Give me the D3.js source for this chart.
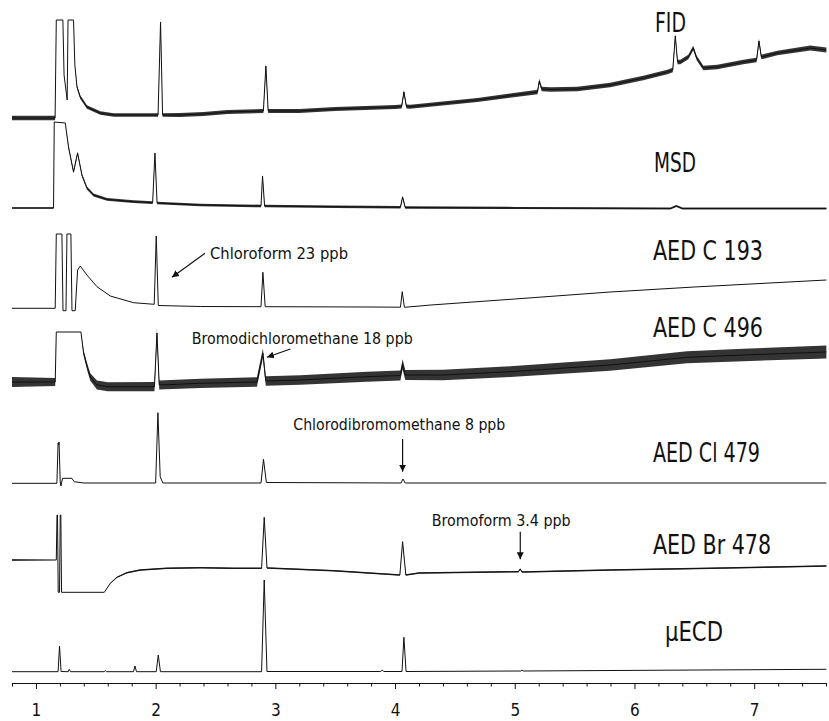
<!DOCTYPE html>
<html><head><meta charset="utf-8">
<script src="https://cdn.jsdelivr.net/npm/d3@7"></script>
<style>
body{margin:0;background:#fff}
svg{display:block}
</style></head><body>
<svg id="chart" width="829" height="721"></svg>
<script>
// ---------- data ----------
const xDomain = [0.8, 7.6];
const majorTicks = [1, 2, 3, 4, 5, 6, 7];
const minorTicks = d3.range(0.8, 7.61, 0.2).map(v => +v.toFixed(1)).filter(v => !majorTicks.includes(v));

const detectorLabels = ["FID", "MSD", "AED C 193", "AED C 496", "AED Cl 479", "AED Br 478", "\u03bcECD"];
const annotationTexts = ["Chloroform 23 ppb", "Bromodichloromethane 18 ppb", "Chlorodibromomethane 8 ppb", "Bromoform 3.4 ppb"];

// [time (min), response]
const fidTrace = [
  [0.80,2],[1.16,2],[1.17,100],[1.225,100],[1.235,45],[1.261,20],[1.268,100],[1.314,100],[1.325,55],
  [1.343,33],[1.37,23],[1.426,13],[1.537,7],[1.65,5],[1.8,5],[2.02,5],[2.041,98],[2.058,5],[2.2,5],
  [2.4,6],[2.6,8],[2.9,9],[2.921,54],[2.94,9],[3.2,9],[3.5,11],[4.0,13],[4.055,13.5],[4.074,28],
  [4.095,13.5],[4.127,13.3],[4.687,20],[5.19,28],[5.205,39],[5.225,31],[5.3,30.5],[5.522,31],
  [5.797,35],[6.073,42],[6.274,48],[6.32,50],[6.341,84],[6.36,58],[6.383,58],[6.45,63],[6.491,72],
  [6.52,62],[6.575,52],[6.692,53],[6.909,58],[7.02,60],[7.04,79],[7.06,63],[7.193,67],[7.469,72],[7.603,70]
];
const fidNoise = [[0.8,2.2],[1.16,2.2],[1.165,0],[1.32,0],[1.34,1.8],[7.603,2.4]];

const msdTrace = [
  [0.80,2],[1.147,2],[1.153,88],[1.245,87],[1.272,63],[1.314,38],[1.348,57],[1.384,35],[1.426,22],
  [1.481,15],[1.593,10.7],[1.815,8.3],[1.975,7.3],[1.994,57],[2.012,7],[2.373,5],[2.88,4],[2.893,34],
  [2.91,4],[3.5,3.3],[4.045,2.7],[4.063,13],[4.085,2.5],[5.0,2],[6.3,1.5],[6.35,4],[6.40,1.5],[7.603,1.5]
];
const msdNoise = [[0.8,0.8],[1.147,0.8],[1.15,0],[1.245,0],[1.27,1.4],[7.603,0.9]];

const c193Trace = [
  [0.80,1.7],[1.161,1.7],[1.170,76],[1.217,76],[1.226,-0.7],[1.251,-0.7],[1.259,76],[1.292,76],
  [1.301,-0.7],[1.328,-0.7],[1.348,40],[1.37,44],[1.426,35],[1.51,23.3],[1.621,14],[1.815,7.3],
  [1.988,5.7],[2.005,74],[2.022,4.5],[2.373,3.5],[2.88,3.3],[2.896,37.7],[2.915,3.3],[3.765,3],
  [4.045,2.8],[4.06,18.3],[4.078,2.7],[4.3,5],[5.0,11],[5.797,18],[6.5,23],[7.603,30]
];

const c496Trace = [
  [0.80,8],[1.161,8],[1.170,58],[1.376,58],[1.398,37],[1.431,22],[1.454,13],[1.51,5],[1.6,3.3],
  [1.99,3.3],[2.011,57],[2.03,5],[2.373,6.7],[2.846,8],[2.896,36.7],[2.92,9],[3.208,10],[3.765,13.3],
  [4.045,14.5],[4.063,25.7],[4.085,15],[4.4,15],[4.963,18.3],[5.797,25],[6.439,32.7],[6.909,35],[7.603,38]
];
const c496Noise = [[0.8,5],[1.16,5],[1.165,0],[1.38,0],[1.40,3],[1.5,4.5],[4.0,5],[7.603,6.5]];

const cl479Trace = [
  [0.80,1.7],[1.175,1.7],[1.185,42],[1.189,40],[1.193,43],[1.203,3],[1.209,-1],[1.222,6.7],[1.30,6.7],
  [1.320,3.3],[1.40,2],[2.0,2],[2.019,72.3],[2.038,8.3],[2.06,2],[2.88,2],[2.901,25.7],[2.925,2.5],
  [4.05,2],[4.066,6],[4.085,2],[7.603,2]
];

const br478Trace = [
  [0.80,35],[1.17,35],[1.176,80],[1.18,80],[1.186,2.7],[1.197,2.7],[1.203,80],[1.208,80],[1.214,2.7],
  [1.571,2.7],[1.621,11.7],[1.677,17.7],[1.760,22.3],[1.871,25],[2.094,26.7],[2.373,27.3],[2.651,26.7],
  [2.885,26.7],[2.907,77.7],[2.93,27],[3.486,24.3],[4.04,20],[4.063,53.3],[4.09,20],[4.2,22],[5.03,23.3],
  [5.046,26],[5.06,23],[5.797,25],[6.633,26.7],[7.603,29]
];
const br478Noise = [[0.8,0.7],[1.165,0.7],[1.17,0],[1.58,0],[1.7,0.7],[7.603,0.7]];

const ecdTrace = [
  [0.80,1.3],[1.185,1.3],[1.197,27],[1.21,1.5],[1.27,1.3],[1.278,3.7],[1.29,1.3],[1.57,1.3],[1.579,2.3],
  [1.59,1.3],[1.815,1.3],[1.827,7],[1.84,1.3],[2.005,1.3],[2.022,18],[2.04,1.3],[2.885,1.3],[2.907,93],
  [2.93,1.5],[3.88,1.5],[3.893,3],[3.905,1.5],[4.058,1.5],[4.074,35.7],[4.092,1.5],[5.05,2],[5.06,3],
  [5.07,2],[7.603,3.7]
];

// ---------- layout ----------
const FONT = '"Liberation Sans Narrow","Arial Narrow","DejaVu Sans Condensed",sans-serif';
const svg = d3.select("#chart");
const x = d3.scaleLinear().domain(xDomain).range([12, 826]);

const traces = [
  {data: fidTrace,  noise: fidNoise,  base: 120, label: {x: 655, y: 32,  w: 31}},
  {data: msdTrace,  noise: msdNoise,  base: 210, label: {x: 654, y: 172, w: 42}},
  {data: c193Trace, noise: null,      base: 310, label: {x: 653, y: 260, w: 110}},
  {data: c496Trace, noise: c496Noise, base: 390, label: {x: 653, y: 337, w: 110}},
  {data: cl479Trace,noise: null,      base: 485, label: {x: 653, y: 462, w: 107}},
  {data: br478Trace,noise: br478Noise,base: 595, label: {x: 653, y: 554, w: 118}},
  {data: ecdTrace,  noise: null,      base: 673, label: {x: 665, y: 641, w: 58}}
];

svg.append("defs").append("marker")
  .attr("id", "arrow").attr("viewBox", "0 0 10 10").attr("refX", 10).attr("refY", 5)
  .attr("markerWidth", 7).attr("markerHeight", 8).attr("markerUnits", "userSpaceOnUse")
  .attr("orient", "auto")
  .append("path").attr("d", "M0,0 L10,5 L0,10 z").attr("fill", "#111");

traces.forEach((tr, i) => {
  const y = d3.scaleLinear().domain([0, 100]).range([tr.base, tr.base - 100]);
  tr.y = y;
  if (tr.noise) {
    const n = d3.scaleLinear().domain(tr.noise.map(d => d[0])).range(tr.noise.map(d => d[1])).clamp(true);
    const area = d3.area().x(d => x(d[0])).y0(d => y(d[1] - n(d[0]))).y1(d => y(d[1] + n(d[0])));
    svg.append("path").attr("d", area(tr.data)).attr("fill", "#111").attr("opacity", 0.85);
  }
  const line = d3.line().x(d => x(d[0])).y(d => y(d[1]));
  svg.append("path").attr("d", line(tr.data)).attr("fill", "none")
    .attr("stroke", "#111").attr("stroke-width", 1).attr("stroke-linejoin", "round");
  svg.append("text").attr("x", tr.label.x).attr("y", tr.label.y)
    .attr("font-family", FONT).attr("font-size", 26).attr("fill", "#111")
    .attr("textLength", tr.label.w).attr("lengthAdjust", "spacingAndGlyphs")
    .text(detectorLabels[i]);
});

// annotations: text position in px, arrow in [time, response] of a trace
const annotations = [
  {ti: 0, tx: 210,   ty: 258.5, w: 138, trace: 2, from: [2.412, 56.7], to: [2.136, 32.7]},
  {ti: 1, tx: 191.7, ty: 344,   w: 221, trace: 3, from: [3.125, 41],   to: [2.930, 32.7]},
  {ti: 2, tx: 293.3, ty: 430,   w: 212, trace: 4, from: [4.063, 46],   to: [4.063, 13.3]},
  {ti: 3, tx: 431.7, ty: 525.7, w: 139, trace: 5, from: [5.046, 63.3], to: [5.046, 35.7]}
];
annotations.forEach(a => {
  const y = traces[a.trace].y;
  svg.append("text").attr("x", a.tx).attr("y", a.ty)
    .attr("font-family", FONT).attr("font-size", 15).attr("fill", "#111")
    .attr("textLength", a.w).attr("lengthAdjust", "spacingAndGlyphs")
    .text(annotationTexts[a.ti]);
  svg.append("line")
    .attr("x1", x(a.from[0])).attr("y1", y(a.from[1]))
    .attr("x2", x(a.to[0])).attr("y2", y(a.to[1]))
    .attr("stroke", "#111").attr("stroke-width", 1.2).attr("marker-end", "url(#arrow)");
});

// axis
const axisY = 683;
const gMinor = svg.append("g").attr("transform", `translate(0,${axisY})`)
  .call(d3.axisBottom(x).tickValues(minorTicks).tickSize(3.5).tickSizeOuter(0).tickFormat(""));
const gMajor = svg.append("g").attr("transform", `translate(0,${axisY})`)
  .call(d3.axisBottom(x).tickValues(majorTicks).tickSize(6).tickSizeOuter(0).tickPadding(15).tickFormat(d3.format("d")));
gMajor.select(".domain").remove();
[gMinor, gMajor].forEach(g => {
  g.selectAll("path,line").attr("stroke", "#111").attr("stroke-width", 1);
});
gMajor.selectAll("text").attr("font-family", FONT).attr("font-size", 17).attr("fill", "#111");
</script>
</body></html>
